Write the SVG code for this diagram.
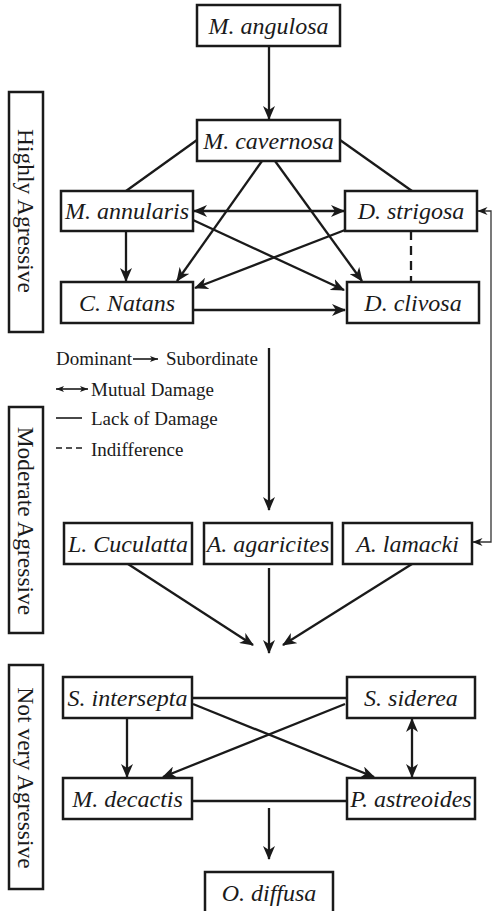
<svg xmlns="http://www.w3.org/2000/svg" width="492" height="911" viewBox="0 0 492 911">
<style>
.box{fill:#fff;stroke:#1a1a1a;stroke-width:2.5}
.lbl{fill:#fff;stroke:#1a1a1a;stroke-width:2.5}
.t{font-family:"Liberation Serif","Times New Roman",serif;font-style:italic;font-size:24px;fill:#1a1a1a;text-anchor:middle}
.r{font-family:"Liberation Serif","Times New Roman",serif;font-size:23.5px;fill:#1a1a1a;text-anchor:middle}
.lg{font-family:"Liberation Serif","Times New Roman",serif;font-size:19px;fill:#1a1a1a}
.c{fill:none;stroke:#1a1a1a;stroke-width:2.3}
.thin{fill:none;stroke:#333;stroke-width:1.3}
.lgl{fill:none;stroke:#1a1a1a;stroke-width:1.6}
</style>
<defs>
<marker id="a" viewBox="0 0 14 12" refX="13" refY="6" markerWidth="14" markerHeight="12" markerUnits="userSpaceOnUse" orient="auto-start-reverse">
<path d="M0,0 L14,6 L0,12 L4,6 Z" fill="#1a1a1a"/>
</marker>
<marker id="s" viewBox="0 0 10 8" refX="9.5" refY="4" markerWidth="10" markerHeight="8" markerUnits="userSpaceOnUse" orient="auto-start-reverse">
<path d="M0,0 L10,4 L0,8 L3,4 Z" fill="#1a1a1a"/>
</marker>
<marker id="l" viewBox="0 0 8 6" refX="8" refY="3" markerWidth="8" markerHeight="6" markerUnits="userSpaceOnUse" orient="auto-start-reverse">
<path d="M0,0 L8,3 L0,6 L2,3 Z" fill="#1a1a1a"/>
</marker>
</defs>

<g id="connectors">
<line class="c" x1="269" y1="46" x2="269" y2="119" marker-end="url(#a)"/>
<line class="c" x1="197" y1="140" x2="126" y2="191"/>
<line class="c" x1="340" y1="140" x2="412" y2="191"/>
<line class="c" x1="262" y1="161" x2="177" y2="281" marker-end="url(#a)"/>
<line class="c" x1="275" y1="161" x2="362" y2="281" marker-end="url(#a)"/>
<line class="c" x1="194" y1="211" x2="344" y2="211" marker-start="url(#a)" marker-end="url(#a)"/>
<line class="c" x1="193" y1="220" x2="344" y2="290" marker-end="url(#a)"/>
<line class="c" x1="345" y1="230" x2="195" y2="288" marker-end="url(#a)"/>
<line class="c" x1="126" y1="231" x2="126" y2="281" marker-end="url(#a)"/>
<line class="c" x1="194" y1="310" x2="345" y2="310" marker-end="url(#a)"/>
<line class="c" x1="411" y1="231" x2="411" y2="282" stroke-dasharray="9,6"/>
<path class="thin" d="M478,211 L491,211 L491,542 L473,542" marker-start="url(#s)" marker-end="url(#s)"/>
<line class="c" x1="269" y1="348" x2="269" y2="510" marker-end="url(#a)"/>
<line class="c" x1="128" y1="564" x2="253" y2="645" marker-end="url(#a)"/>
<line class="c" x1="269" y1="568" x2="269" y2="653" marker-end="url(#a)"/>
<line class="c" x1="412" y1="564" x2="283" y2="645" marker-end="url(#a)"/>
<line class="c" x1="192" y1="698" x2="347" y2="698"/>
<line class="c" x1="193" y1="704" x2="374" y2="777" marker-end="url(#a)"/>
<line class="c" x1="345" y1="704" x2="163" y2="777" marker-end="url(#a)"/>
<line class="c" x1="127" y1="718" x2="127" y2="777" marker-end="url(#a)"/>
<line class="c" x1="412" y1="719" x2="412" y2="777" marker-start="url(#a)" marker-end="url(#a)"/>
<line class="c" x1="192" y1="801" x2="347" y2="801"/>
<line class="c" x1="269" y1="808" x2="269" y2="859" marker-end="url(#a)"/>
</g>

<g id="legend">
<text class="lg" x="56" y="365">Dominant</text>
<line class="lgl" x1="133" y1="359" x2="158" y2="359" marker-end="url(#l)"/>
<text class="lg" x="166" y="365">Subordinate</text>
<line class="lgl" x1="56" y1="389" x2="88" y2="389" marker-start="url(#l)" marker-end="url(#l)"/>
<text class="lg" x="91" y="396">Mutual Damage</text>
<line class="lgl" x1="56" y1="418" x2="82" y2="418"/>
<text class="lg" x="91" y="425">Lack of Damage</text>
<line class="lgl" x1="56" y1="448" x2="82" y2="448" stroke-dasharray="6,4"/>
<text class="lg" x="91" y="456">Indifference</text>
</g>

<g id="level-high">
<rect class="lbl" x="9" y="92" width="34" height="240"/>
<text class="r" transform="translate(26,211) rotate(90)" y="8">Highly Agressive</text>
</g>
<g id="level-moderate">
<rect class="lbl" x="9" y="407" width="34" height="226"/>
<text class="r" transform="translate(26,521) rotate(90)" y="8">Moderate Agressive</text>
</g>
<g id="level-low">
<rect class="lbl" x="9" y="665" width="34" height="224"/>
<text class="r" transform="translate(26,778) rotate(90)" y="8">Not very Agressive</text>
</g>

<g id="n-angulosa"><rect class="box" x="197" y="5" width="143" height="41"/><text class="t" x="268.5" y="34">M. angulosa</text></g>
<g id="n-cavernosa"><rect class="box" x="197" y="120" width="143" height="41"/><text class="t" x="268.5" y="149">M. cavernosa</text></g>
<g id="n-annularis"><rect class="box" x="61" y="191" width="132" height="40"/><text class="t" x="127" y="219">M. annularis</text></g>
<g id="n-strigosa"><rect class="box" x="345" y="191" width="132" height="40"/><text class="t" x="411" y="219">D. strigosa</text></g>
<g id="n-natans"><rect class="box" x="61" y="282" width="132" height="41"/><text class="t" x="127" y="311">C. Natans</text></g>
<g id="n-clivosa"><rect class="box" x="347" y="282" width="132" height="41"/><text class="t" x="413" y="311">D. clivosa</text></g>
<g id="n-cuculatta"><rect class="box" x="64" y="523" width="128" height="41"/><text class="t" x="128" y="552">L. Cuculatta</text></g>
<g id="n-agaricites"><rect class="box" x="204" y="523" width="128" height="41"/><text class="t" x="268" y="552">A. agaricites</text></g>
<g id="n-lamacki"><rect class="box" x="343" y="523" width="129" height="41"/><text class="t" x="407.5" y="552">A. lamacki</text></g>
<g id="n-intersepta"><rect class="box" x="63" y="677" width="129" height="41"/><text class="t" x="127.5" y="706">S. intersepta</text></g>
<g id="n-siderea"><rect class="box" x="347" y="677" width="128" height="41"/><text class="t" x="411" y="706">S. siderea</text></g>
<g id="n-decactis"><rect class="box" x="63" y="778" width="129" height="41"/><text class="t" x="127.5" y="807">M. decactis</text></g>
<g id="n-astreoides"><rect class="box" x="347" y="778" width="128" height="41"/><text class="t" x="411" y="807">P. astreoides</text></g>
<g id="n-diffusa"><rect class="box" x="205" y="872" width="128" height="45"/><text class="t" x="269" y="901">O. diffusa</text></g>
</svg>
